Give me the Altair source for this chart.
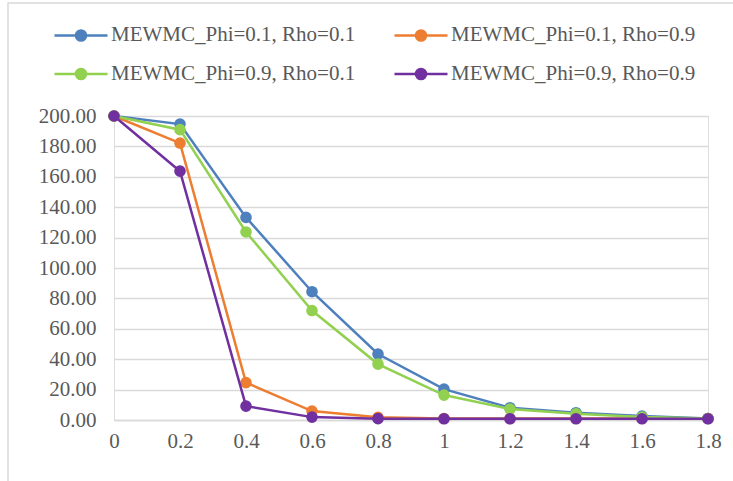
import altair as alt
import pandas as pd

x_labels = ["0", "0.2", "0.4", "0.6", "0.8", "1", "1.2", "1.4", "1.6", "1.8"]
series_names = [
    "MEWMC_Phi=0.1, Rho=0.1",
    "MEWMC_Phi=0.1, Rho=0.9",
    "MEWMC_Phi=0.9, Rho=0.1",
    "MEWMC_Phi=0.9, Rho=0.9",
]
s1 = [200.0, 194.7, 133.3, 84.4, 43.4, 20.3, 8.1, 4.8, 2.6, 1.0]
s2 = [200.0, 182.2, 24.6, 5.9, 1.8, 1.0, 1.0, 1.0, 1.0, 1.0]
s3 = [200.0, 191.0, 123.7, 72.0, 36.8, 16.4, 7.2, 4.1, 2.0, 1.0]
s4 = [200.0, 163.7, 9.1, 1.9, 0.9, 0.8, 0.8, 0.8, 0.8, 0.8]
colors = ["#4E80BD", "#ED7D31", "#92D050", "#7030A0"]

rows = []
for name, vals in zip(series_names, [s1, s2, s3, s4]):
    for xl, v in zip(x_labels, vals):
        rows.append({"x": xl, "value": v, "series": name})
df = pd.DataFrame(rows)

FONT = "Liberation Serif, Times New Roman, DejaVu Serif, serif"
GRID = "#D9D9D9"
TEXT = "#595959"

color_scale = alt.Scale(domain=series_names, range=colors)
x_enc = alt.X("x:O", sort=x_labels, scale=alt.Scale(type="point", padding=0),
              axis=alt.Axis(title=None, labelAngle=0, ticks=False, domain=True,
                            domainColor=GRID, domainWidth=1.5, grid=False,
                            labelFont=FONT, labelFontSize=21, labelColor=TEXT,
                            labelPadding=10))
y_enc = alt.Y("value:Q", scale=alt.Scale(domain=[0, 200], nice=False),
              axis=alt.Axis(title=None, values=list(range(0, 201, 20)), format=".2f",
                            ticks=False, domain=False, grid=True, gridColor=GRID,
                            gridWidth=1.5, labelFont=FONT, labelFontSize=21,
                            labelColor=TEXT, labelPadding=18))

legend = alt.Legend(
    title=None, orient="none", legendX=-61, legendY=-109, columns=2,
    direction="horizontal",
    symbolType="M-1,0L1,0M-0.19,0A0.19,0.19,0,1,1,0.19,0A0.19,0.19,0,1,1,-0.19,0Z",
    symbolSize=2809, symbolStrokeWidth=2.5, labelFont=FONT, labelFontSize=21,
    labelColor=TEXT, labelLimit=400, columnPadding=33, rowPadding=-22, labelOffset=2,
)

frame = alt.Chart(pd.DataFrame({"a": [0]})).mark_rect(
    fill=None, stroke=GRID, strokeWidth=1.5
).encode(x=alt.value(-106), y=alt.value(-113), x2=alt.value(700), y2=alt.value(500))

layers = [frame]
for i, name in enumerate(series_names):
    sub = df[df.series == name]
    base = alt.Chart(sub)
    leg = legend if i == 0 else None
    line = base.mark_line(strokeWidth=2.5).encode(
        x=x_enc, y=y_enc,
        color=alt.Color("series:N", scale=color_scale, legend=leg))
    pts = base.mark_point(filled=True, size=135, opacity=1).encode(
        x=x_enc, y=y_enc,
        color=alt.Color("series:N", scale=color_scale, legend=leg))
    layers += [line, pts]

chart = alt.layer(*layers).properties(
    width=594, height=304,
    autosize=alt.AutoSizeParams(type="none"),
    padding={"left": 114, "top": 116, "right": 25, "bottom": 61},
    background="white",
).configure_view(stroke=None).configure(font=FONT)

chart.save("out.html", embed_options={"renderer": "svg", "actions": False})
